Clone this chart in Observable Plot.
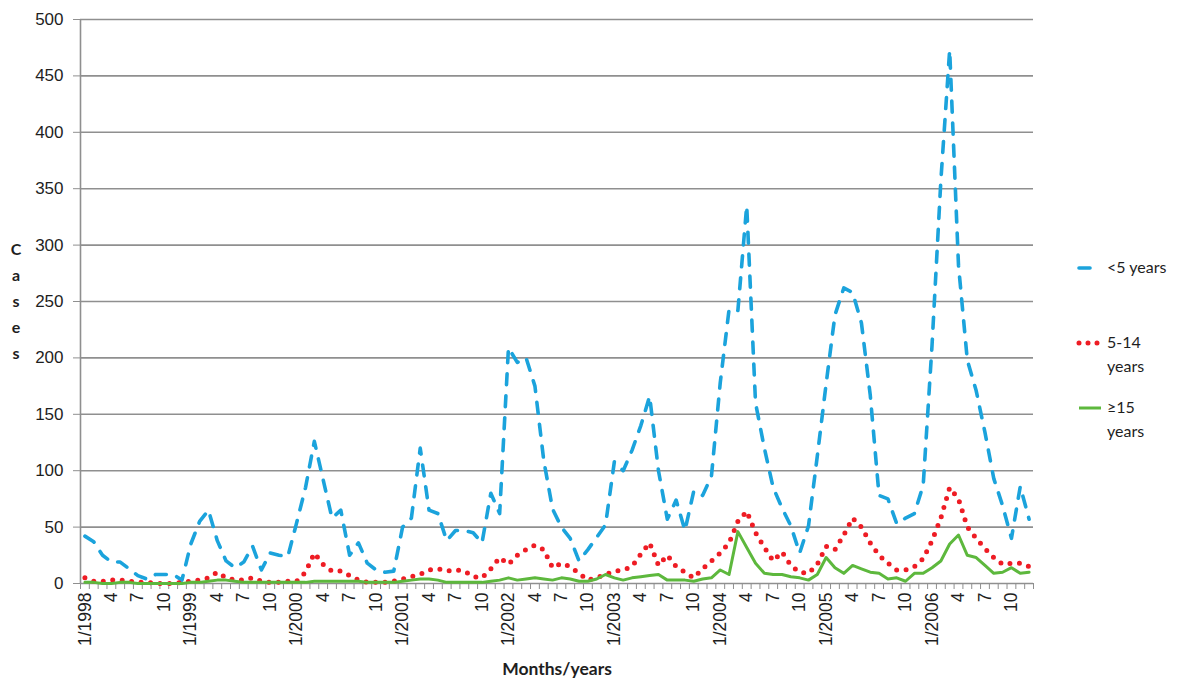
<!DOCTYPE html>
<html><head><meta charset="utf-8">
<script src="https://cdn.jsdelivr.net/npm/d3@7"></script>
<script src="https://cdn.jsdelivr.net/npm/@observablehq/plot@0.6"></script>
<style>
body{margin:0;background:#fff;}
#chart{width:1202px;height:680px;}
</style></head><body><div id="chart"></div>
<script>
// ---- data (monthly cases, Jan 1998 .. Dec 2006) ----
const under5 = [
  42, 37, 25, 19, 19, 13, 7, 4, 8, 8, 8, 3,
  35, 55, 65, 38, 20, 14, 19, 33, 12, 27, 25, 24,
  54, 85, 126, 92, 58, 65, 25, 36, 18, 12, 10, 11,
  50, 58, 120, 65, 62, 38, 47, 47, 45, 36, 80, 62,
  209, 196, 200, 175, 109, 66, 50, 40, 20, 30, 41, 52,
  108, 100, 118, 140, 166, 100, 57, 74, 47, 82, 78, 95,
  178, 243, 242, 335, 160, 120, 85, 67, 51, 27, 51, 113,
  177, 238, 262, 258, 231, 167, 78, 75, 53, 58, 62, 87,
  211, 357, 473, 282, 198, 171, 134, 93, 69, 40, 86, 57
];
const age5to14 = [
  5, 2, 2, 3, 3, 2, 1, 1, 0, 0, 0, 1,
  2, 3, 5, 10, 5, 3, 3, 5, 2, 1, 1, 2,
  2, 10, 27, 17, 11, 11, 7, 3, 1, 1, 1, 2,
  4, 6, 8, 12, 13, 11, 12, 11, 6, 5, 13, 23,
  17, 25, 30, 34, 30, 14, 18, 15, 9, 3, 5, 8,
  11, 12, 15, 26, 36, 16, 25, 15, 10, 5, 13, 20,
  27, 36, 55, 64, 45, 32, 20, 28, 16, 10, 9, 17,
  33, 30, 43, 58, 50, 36, 25, 18, 12, 12, 15, 22,
  38, 58, 85, 75, 50, 40, 31, 23, 17, 18, 18, 15
];
const age15plus = [
  1, 1, 0, 0, 1, 1, 0, 0, 0, 0, 0, 0,
  1, 1, 2, 3, 3, 2, 1, 1, 1, 1, 1, 1,
  1, 1, 2, 2, 2, 2, 2, 2, 1, 1, 1, 1,
  2, 3, 4, 4, 3, 1, 1, 1, 1, 1, 2, 3,
  5, 3, 4, 5, 4, 3, 5, 4, 2, 2, 4, 8,
  5, 3, 5, 6, 7, 8, 3, 3, 3, 2, 4, 5,
  12, 8, 46, 32, 18, 9, 8, 8, 6, 5, 3, 8,
  23, 14, 9, 16, 13, 10, 9, 4, 5, 2, 9, 9,
  14, 20, 35, 43, 25, 23, 16, 9, 10, 14, 9, 10
];
const tickLabels = [
  "1/1998","4","7","10","1/1999","4","7","10","1/2000","4","7","10",
  "1/2001","4","7","10","1/2002","4","7","10","1/2003","4","7","10",
  "1/2004","4","7","10","1/2005","4","7","10","1/2006","4","7","10"
];
const yTicks = [0, 50, 100, 150, 200, 250, 300, 350, 400, 450, 500];
const seriesNames = ["<5 years", "5-14 years", "≥15 years"];
const legendLines = [["<5 years"], ["5-14", "years"], ["≥15", "years"]];
const yTitle = "Cases";
const xTitle = "Months/years";

// ---- styles ----
const colors = ["#1ba3dc", "#ee1c24", "#5db83d"];
const gridColor = "#8f8f8f";
const textColor = "#1e1e1e";
const font = "Lato, 'Open Sans', sans-serif";
const tickFont = "'Liberation Sans', Arial, sans-serif";

const n = under5.length;
const toRows = arr => arr.map((v, i) => ({i, v}));
const boundaries = d3.range(0, n + 1).map(k => k - 0.5);
const labelPos = tickLabels.map((_, k) => k * 3);

const chart = Plot.plot({
  width: 1202, height: 680,
  marginLeft: 80, marginRight: 169, marginTop: 19, marginBottom: 97,
  x: {type: "linear", domain: [-0.5, n - 0.5], label: null},
  y: {domain: [0, 500], label: null},
  style: {fontFamily: font, fontSize: "15px", color: textColor, background: "white", overflow: "visible"},
  marks: [
    Plot.gridY(yTicks.slice(1), {stroke: gridColor, strokeOpacity: 1, strokeWidth: 1.6}),
    Plot.ruleX([-0.5], {stroke: gridColor, strokeWidth: 1.6}),
    Plot.ruleY([0], {stroke: gridColor, strokeWidth: 1.6}),
    Plot.axisY(yTicks, {tickSize: 7, tickPadding: 10, stroke: gridColor, fill: textColor, fontFamily: tickFont, fontSize: 17, label: null}),
    Plot.axisX(boundaries, {tickSize: 6, tickFormat: () => "", stroke: gridColor, label: null}),
    Plot.axisX(labelPos, {tickSize: 0, tickPadding: 9, tickRotate: -90, tickFormat: d => tickLabels[d / 3], fill: textColor, fontFamily: tickFont, fontSize: 17.5, label: null}),
    Plot.line(toRows(under5), {x: "i", y: "v", stroke: colors[0], strokeWidth: 3.6, strokeDasharray: "11,11", strokeLinecap: "round"}),
    Plot.line(toRows(age5to14), {x: "i", y: "v", stroke: colors[1], strokeWidth: 5, strokeDasharray: "0,9.5", strokeLinecap: "round"}),
    Plot.line(toRows(age15plus), {x: "i", y: "v", stroke: colors[2], strokeWidth: 3})
  ]
});
document.getElementById("chart").appendChild(chart);

const svg = d3.select(chart);
// y title (stacked letters)
const yt = svg.append("text").attr("font-family", font).attr("font-size", 16).attr("font-weight", "bold")
  .attr("fill", textColor).attr("text-anchor", "middle");
yTitle.split("").forEach((ch, k) => {
  yt.append("tspan").attr("x", 16).attr("y", 255 + k * 26).text(ch);
});
// x title
svg.append("text").attr("x", 557).attr("y", 675).attr("text-anchor", "middle")
  .attr("font-family", font).attr("font-size", 17.5).attr("font-weight", "bold").attr("fill", textColor).text(xTitle);

// legend
const legY = [268, 343, 408];
const dashes = ["11,11", "0,9", null];
const widths = [3.6, 5, 3];
seriesNames.forEach((name, k) => {
  const g = svg.append("g").attr("aria-label", name);
  const ln = g.append("line").attr("x1", 1079).attr("x2", 1101).attr("y1", legY[k]).attr("y2", legY[k])
    .attr("stroke", colors[k]).attr("stroke-width", widths[k]);
  if (dashes[k]) ln.attr("stroke-dasharray", dashes[k]).attr("stroke-linecap", "round");
  const t = g.append("text").attr("font-family", font).attr("font-size", 16).attr("fill", textColor)
    .attr("text-anchor", "start");
  legendLines[k].forEach((s, j) => {
    t.append("tspan").attr("x", 1107).attr("y", legY[k] + 5 + j * 24).text(s);
  });
});
</script>
</body></html>
